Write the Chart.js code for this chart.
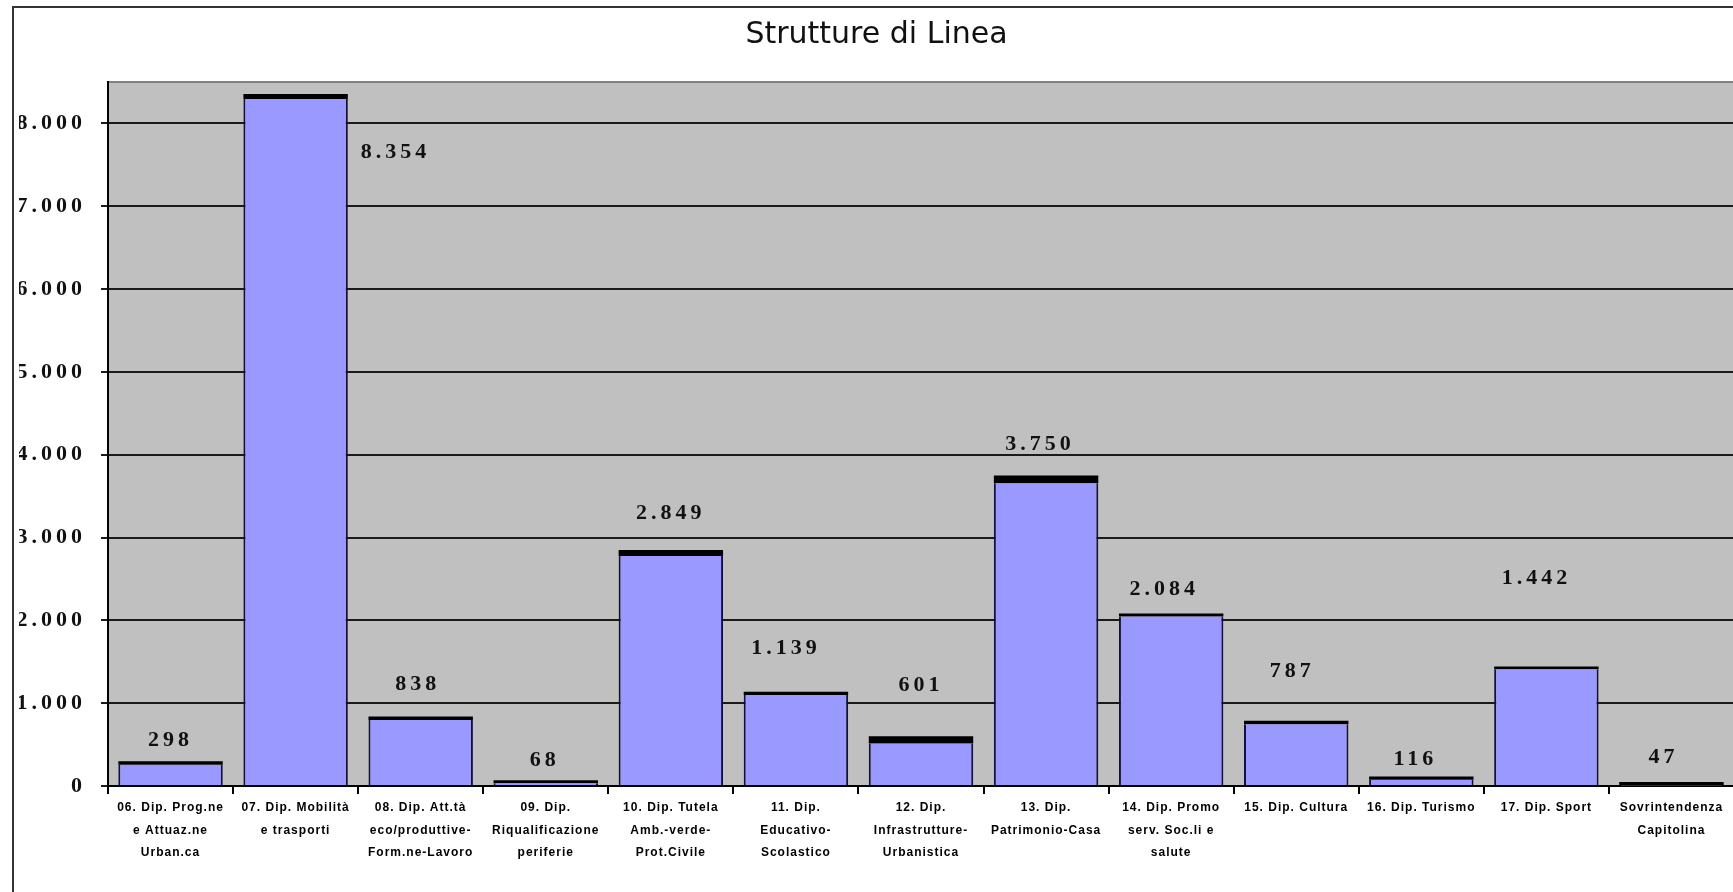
<!DOCTYPE html>
<html>
<head>
<meta charset="utf-8">
<title>Strutture di Linea</title>
<script src="https://cdn.jsdelivr.net/npm/chart.js@4/dist/chart.umd.min.js"></script>
<style>
  html, body { margin: 0; padding: 0; background: #fff; overflow: hidden; }
  #wrap { position: absolute; left: 0; top: 0; width: 1760px; height: 892px; }
</style>
</head>
<body>
<div id="wrap"><canvas id="grafico" width="1760" height="892" style="width:1760px;height:892px"></canvas></div>
<script>
// dati
const categorie = [
  ['06. Dip. Prog.ne', 'e Attuaz.ne', 'Urban.ca'],
  ['07. Dip. Mobilità', 'e trasporti'],
  ['08. Dip. Att.tà', 'eco/produttive-', 'Form.ne-Lavoro'],
  ['09. Dip.', 'Riqualificazione', 'periferie'],
  ['10. Dip. Tutela', 'Amb.-verde-', 'Prot.Civile'],
  ['11. Dip.', 'Educativo-', 'Scolastico'],
  ['12. Dip.', 'Infrastrutture-', 'Urbanistica'],
  ['13. Dip.', 'Patrimonio-Casa'],
  ['14. Dip. Promo', 'serv. Soc.li e', 'salute'],
  ['15. Dip. Cultura'],
  ['16. Dip. Turismo'],
  ['17. Dip. Sport'],
  ['Sovrintendenza', 'Capitolina']
];
const valoriBase = [258, 8294, 798, 32, 2777, 1099, 513, 3654, 2048, 747, 76, 1410, 7];
const valoriCima = [40, 60, 40, 36, 72, 40, 88, 96, 36, 40, 40, 32, 40];
const totali = [298, 8354, 838, 68, 2849, 1139, 601, 3750, 2084, 787, 116, 1442, 47];
const tickY = [0, 1000, 2000, 3000, 4000, 5000, 6000, 7000, 8000];

// posizione delle etichette rispetto alla cima della barra (px)
const spostamenti = [[-2, -21], [98, 58], [-5, -32], [-3, -20], [-2, -37], [-12, -43], [-2, -51],
  [-8, -31], [-9, -24], [-6, -50], [-8, -17], [-12, -88], [-10, -25]];

function formatta(n) {
  return String(n).replace(/\B(?=(\d{3})+(?!\d))/g, '.');
}

// spaziatura delle lettere per le etichette degli assi
function conSpaziatura(scala, spaziatura) {
  if (scala._spaziata) return;
  const originale = scala.drawLabels;
  scala.drawLabels = function (area) {
    this.ctx.save();
    this.ctx.letterSpacing = spaziatura;
    originale.call(this, area);
    this.ctx.restore();
  };
  scala._spaziata = true;
}

const sfondo = {
  id: 'sfondo',
  beforeDraw(chart) {
    const { ctx, chartArea: a } = chart;
    ctx.save();
    ctx.fillStyle = '#C0C0C0';
    ctx.fillRect(a.left, a.top, a.right - a.left, a.bottom - a.top);
    ctx.strokeStyle = '#808080';
    ctx.lineWidth = 2;
    ctx.beginPath();
    ctx.moveTo(a.left, a.top);
    ctx.lineTo(a.right, a.top);
    ctx.stroke();
    ctx.restore();
    conSpaziatura(chart.scales.x, '1px');
    conSpaziatura(chart.scales.y, '4px');
  },
  afterDraw(chart) {
    const ctx = chart.ctx;
    ctx.save();
    ctx.strokeStyle = '#333';
    ctx.lineWidth = 2;
    ctx.strokeRect(13, 7, 1900, 1000);
    ctx.restore();
  }
};

const etichette = {
  id: 'etichette',
  afterDatasetsDraw(chart) {
    const ctx = chart.ctx;
    const meta = chart.getDatasetMeta(1);
    ctx.save();
    ctx.font = 'bold 22px "Liberation Serif", "Times New Roman", serif';
    ctx.letterSpacing = '4px';
    ctx.fillStyle = '#111';
    ctx.textAlign = 'center';
    ctx.textBaseline = 'middle';
    meta.data.forEach((barra, i) => {
      const [dx, dy] = spostamenti[i];
      ctx.fillText(formatta(totali[i]), barra.x + dx + 2, barra.y + dy);
    });
    ctx.restore();
  }
};

const ctx = document.getElementById('grafico').getContext('2d');
const grafico = new Chart(ctx, {
  type: 'bar',
  data: {
    labels: categorie,
    datasets: [{
      label: 'base',
      data: valoriBase,
      backgroundColor: '#9999FF',
      borderColor: '#10103a',
      borderWidth: { top: 0, left: 2, right: 2, bottom: 0 },
      borderSkipped: false,
      categoryPercentage: 1,
      barPercentage: 0.835
    }, {
      label: 'cima',
      data: valoriCima,
      backgroundColor: '#000',
      borderWidth: 0,
      categoryPercentage: 1,
      barPercentage: 0.835
    }]
  },
  options: {
    responsive: false,
    animation: false,
    devicePixelRatio: 1,
    layout: { padding: { left: 19, right: 26, top: 0, bottom: 0 } },
    plugins: {
      legend: { display: false },
      tooltip: { enabled: false },
      title: {
        display: true,
        text: 'Strutture di Linea',
        color: '#111',
        font: { family: '"DejaVu Sans", Verdana, sans-serif', size: 30, weight: 'normal', lineHeight: 1.2 },
        padding: { top: 17, bottom: 29 }
      }
    },
    scales: {
      x: {
        stacked: true,
        grid: { offset: true, drawOnChartArea: false, drawTicks: true, tickLength: 8, color: '#000', lineWidth: 2 },
        border: { display: true, color: '#000', width: 2 },
        ticks: {
          autoSkip: false, maxRotation: 0, minRotation: 0, padding: 2, color: '#000',
          font: { family: '"Liberation Sans", Arial, sans-serif', size: 12, weight: 'bold', lineHeight: 1.9 }
        },
        afterFit(s) { s.height = 106; }
      },
      y: {
        stacked: true,
        min: 0,
        max: 8500,
        afterBuildTicks(s) { s.ticks = tickY.map(v => ({ value: v })); },
        grid: { color: '#1a1a1a', lineWidth: 2, drawTicks: true, tickLength: 7 },
        border: { display: true, color: '#000', width: 2 },
        ticks: {
          padding: 15, color: '#111',
          font: { family: '"Liberation Serif", "Times New Roman", serif', size: 22, weight: 'bold' },
          callback: v => formatta(v)
        },
        afterFit(s) { s.width = 89; }
      }
    }
  },
  plugins: [sfondo, etichette]
});
</script>
</body>
</html>
